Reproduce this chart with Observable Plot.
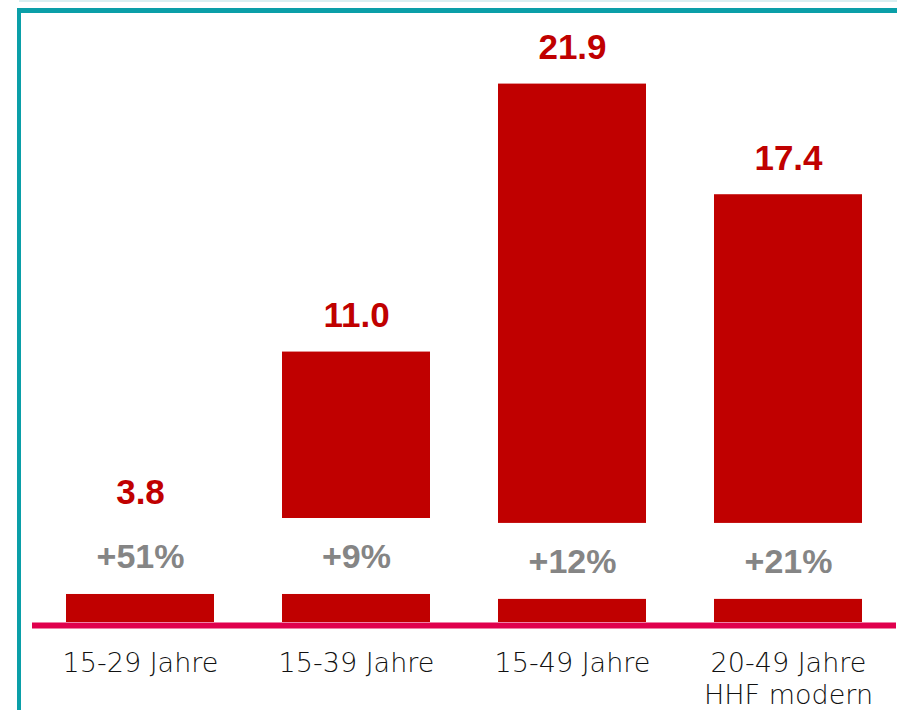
<!DOCTYPE html>
<html>
<head>
<meta charset="utf-8">
<script src="https://cdn.jsdelivr.net/npm/d3@7"></script>
<script src="https://cdn.jsdelivr.net/npm/@observablehq/plot@0.6"></script>
<style>
  html, body { margin: 0; padding: 0; background: #fff; overflow: hidden; }
  #wrap { position: relative; width: 897px; height: 710px; }
  #frame { position: absolute; left: 17px; top: 8px; right: 0; bottom: -20px;
           border-top: 5px solid #0a9fa8; border-left: 4px solid #0a9fa8; pointer-events: none; }
  #hair { position: absolute; left: 19px; top: 0; right: 0; height: 2px; background: #d9eff1; }
  #chart svg { position: absolute; left: 0; top: 0; }
</style>
</head>
<body>
<div id="wrap"><div id="chart"></div><div id="hair"></div><div id="frame"></div></div>
<script>
// Data
const categories = ["15-29 Jahre", "15-39 Jahre", "15-49 Jahre", "20-49 Jahre\nHHF modern"];
const values = [3.8, 11.0, 21.9, 17.4];
const changes = ["+51%", "+9%", "+12%", "+21%"];
// visual break in each bar (value units) where the change label sits
const breakLow = [1.14, 1.14, 0.94, 0.94];
const breakHigh = [4.23, 4.23, 4.03, 4.03];

const data = categories.map((c, i) => ({
  cat: c, value: values[i], change: changes[i],
  lo: breakLow[i], hi: breakHigh[i], mid: (breakLow[i] + breakHigh[i]) / 2
}));

const chart = Plot.plot({
  width: 897,
  height: 710,
  marginLeft: 32,
  marginRight: 1,
  marginTop: 0,
  marginBottom: 88,
  style: { background: "transparent", fontFamily: "DejaVu Sans", fontSize: "27px", color: "#111", fontWeight: 200 },
  x: { domain: categories, paddingInner: 0.315, paddingOuter: 0.1575, label: null },
  y: { domain: [0, 25.3], axis: null },
  marks: [
    Plot.barY(data, { x: "cat", y: "value", fill: "#c00000" }),
    Plot.barY(data, { x: "cat", y1: "lo", y2: "hi", fill: "#ffffff" }),
    Plot.ruleY([0], { stroke: "#e0004d", strokeWidth: 6, dy: 3 }),
    Plot.text(data, { x: "cat", y: "value", text: d => d.value.toFixed(1), dy: -25, lineAnchor: "bottom",
      fill: "#c00000", fontFamily: "Liberation Sans", fontWeight: "bold", fontSize: 35 }),
    Plot.text(data, { x: "cat", y: "mid", text: "change", lineAnchor: "middle", dy: 1,
      fill: "#858585", fontFamily: "Liberation Sans", fontWeight: "bold", fontSize: 34 }),
    Plot.axisX({ tickSize: 0, tickPadding: 26, lineHeight: 1.2, fontSize: 27, fontWeight: 200,
      fontFamily: "DejaVu Sans", fill: "#111", label: null })
  ]
});
document.getElementById("chart").appendChild(chart);
</script>
</body>
</html>
